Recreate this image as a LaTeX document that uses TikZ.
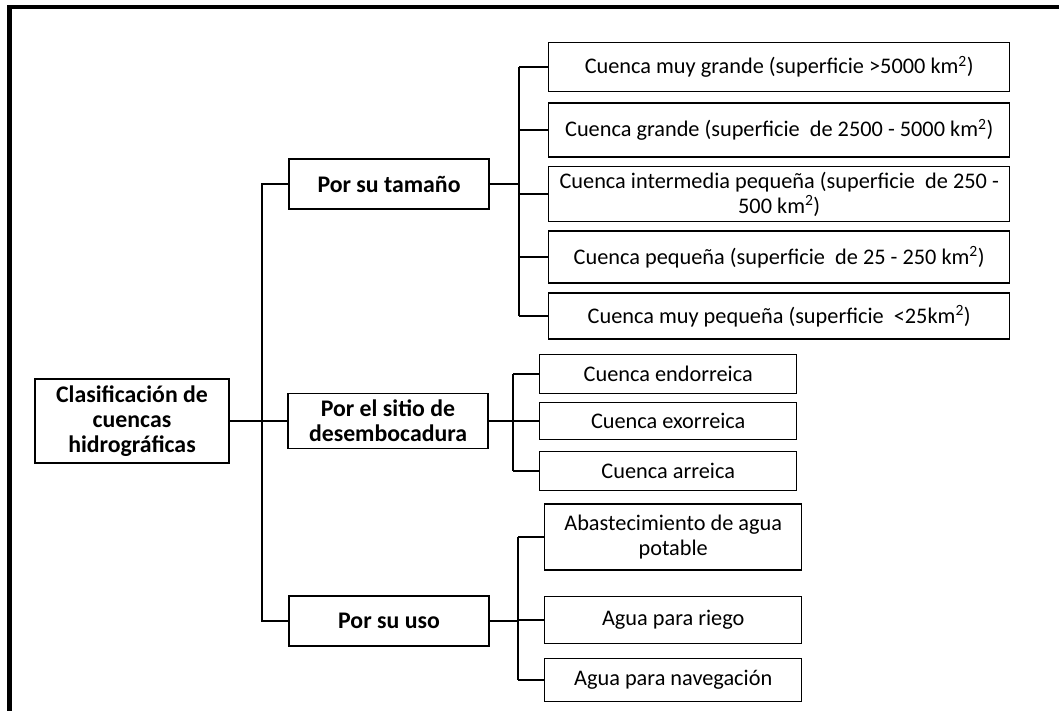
\documentclass[tikz,border=0pt]{standalone}
\usepackage{fontspec}
\setmainfont{Carlito}
\usetikzlibrary{positioning}

\begin{document}
\begin{tikzpicture}[x=1pt, y=-1pt,
    box/.style={draw, line width=1.4pt, align=center, inner sep=2pt, font=\fontsize{22.3}{25}\selectfont},
    cat/.style={box, font=\bfseries\fontsize{23.8}{25}\selectfont, minimum width=200},
    leaf/.style={box, anchor=west},
    link/.style={line width=1.4pt},
    trunk/.style={line width=2.4pt}]
          % Frame
          \useasboundingbox (0,0) rectangle (1059,710);
          \draw[line width=4.5pt] (9.5,714) -- (9.5,7) -- (1064,7);

          % Root and groups
          \node[cat, minimum width=194, minimum height=84] (root) at (132,421) {Clasificación de\\ cuencas\\ hidrográficas};
          \node[cat, minimum height=50] (tam) at (389,184) {Por su tamaño};
          \node[cat, minimum height=55] (sit) at (388,421) {Por el sitio de\\ desembocadura};
          \node[cat, minimum height=50] (uso) at (389,621) {Por su uso};

          % Leaves by size
          \foreach \n/\y/\h/\t in {1/67/49/{Cuenca muy grande (superficie >5000 km\textsuperscript{2})},
              2/130/54/{Cuenca grande (superficie \ de 2500 - 5000 km\textsuperscript{2})},
              3/194/55/{Cuenca intermedia pequeña (superficie \ de 250 -\\ 500 km\textsuperscript{2})},
              4/257/52/{Cuenca pequeña (superficie \ de 25 - 250 km\textsuperscript{2})},
              5/316/46/{Cuenca muy pequeña (superficie \ <25km\textsuperscript{2})}} {
            \node[leaf, minimum width=461, minimum height=\h] (tam\n) at (548,\y) {\t};
          }

          % Leaves by outlet
          \foreach \n/\y/\h/\t in {1/374/39/{Cuenca endorreica}, 2/421/37/{Cuenca exorreica}, 3/471/39/{Cuenca arreica}} {
            \node[leaf, minimum width=257, minimum height=\h] (sit\n) at (539,\y) {\t};
          }

          % Leaves by use
          \foreach \n/\y/\h/\t in {1/537/66/{Abastecimiento de agua\\ potable}, 2/620/47/{Agua para riego}, 3/680/43/{Agua para navegación}} {
            \node[leaf, minimum width=257, minimum height=\h] (uso\n) at (544,\y) {\t};
          }

          % Trunk
          \coordinate (tk) at (262,0);
          \draw[trunk] (root.east) -- (root.east -| tk);
          \draw[link] (tam.west) -- (tam.west -| tk) -- (uso.west -| tk) -- (uso.west);
          \draw[link] (sit.west) -- (sit.west -| tk);

          % Buses
          \coordinate (tb) at (519,0);
          \coordinate (sb) at (513,0);
          \coordinate (ub) at (518,0);
          \draw[trunk] (tam.east) -- (tam.east -| tb);
          \draw[link] (tam1.west -| tb) -- (tam5.west -| tb);
          \foreach \i in {1,...,5} {
            \draw[link] (tam\i.west) -- (tam\i.west -| tb);
          }
          \draw[link] (sit.east) -- (sit.east -| sb);
          \draw[link] (sit1.west -| sb) -- (sit3.west -| sb);
          \draw[link] (uso.east) -- (uso.east -| ub);
          \draw[link] (uso1.west -| ub) -- (uso3.west -| ub);
          \foreach \i in {1,2,3} {
            \draw[link] (sit\i.west) -- (sit\i.west -| sb);
            \draw[link] (uso\i.west) -- (uso\i.west -| ub);
          }
        \end{tikzpicture}
\end{document}
